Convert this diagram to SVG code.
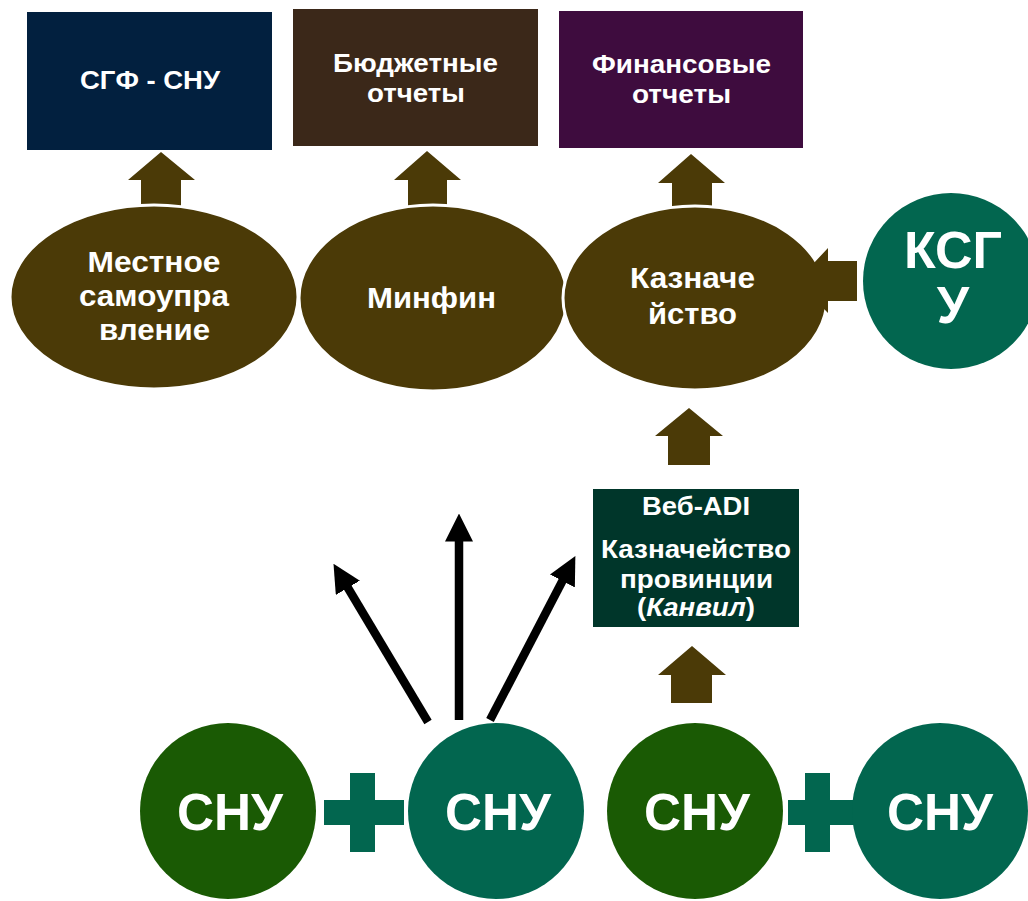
<svg xmlns="http://www.w3.org/2000/svg" width="1028" height="901" viewBox="0 0 1028 901">
<defs>
<style>
text{font-family:"Liberation Sans",Arial,sans-serif;font-weight:bold;fill:#fff;text-anchor:middle}
.box{font-size:25px}
.ell{font-size:29px}
.blk{fill:#4B3A07}
.ellipse{fill:#4B3A07;stroke:#fff;stroke-width:3}
.teal{fill:#02664F}
.dkg{fill:#1A5A04}
.snu{font-size:51px}
.web{font-size:25px}
.line{stroke:#000;stroke-width:8.5;fill:none}
</style>
<marker id="ah" viewBox="0 0 10 10" refX="2" refY="5" markerWidth="3.3" markerHeight="3.3" orient="auto" markerUnits="strokeWidth">
<path d="M0,0 L10,5 L0,10 Z" fill="#000"/>
</marker>
</defs>
<rect width="1028" height="901" fill="#fff"/>

<g id="connectors">
<polygon class="blk" points="161,152 195,180 181,180 181,215 141,215 141,180 128,180"/>
<polygon class="blk" points="427,151 461,180 447,180 447,215 408,215 408,180 394,180"/>
<polygon class="blk" points="691,154 725,183 712,183 712,215 672,215 672,183 658,183"/>
<polygon class="blk" points="689,408 723,436 710,436 710,465 668,465 668,436 655,436"/>
<polygon class="blk" points="692,646 726,675 712,675 712,703 671,703 671,675 658,675"/>
<line class="line" x1="428" y1="722" x2="345" y2="583" marker-end="url(#ah)"/>
<line class="line" x1="459" y1="720" x2="459" y2="536" marker-end="url(#ah)"/>
<line class="line" x1="490" y1="720" x2="565" y2="576" marker-end="url(#ah)"/>
</g>

<g id="n-sgf"><rect x="27" y="12" width="245" height="138" fill="#02203F"/><text class="box" x="150" y="89" textLength="140" lengthAdjust="spacingAndGlyphs">СГФ - СНУ</text></g>
<g id="n-budget"><rect x="293" y="9" width="245" height="137" fill="#3B2819"/><text class="box" x="415.5" y="72" textLength="165" lengthAdjust="spacingAndGlyphs">Бюджетные</text><text class="box" x="416" y="102" textLength="98" lengthAdjust="spacingAndGlyphs">отчеты</text></g>
<g id="n-fin"><rect x="559" y="11" width="244" height="137" fill="#3E0C3E"/><text class="box" x="681.5" y="73" textLength="179" lengthAdjust="spacingAndGlyphs">Финансовые</text><text class="box" x="681.5" y="103" textLength="99" lengthAdjust="spacingAndGlyphs">отчеты</text></g>

<g id="n-local"><ellipse class="ellipse" cx="154" cy="297" rx="144" ry="92"/><text class="ell" x="154" y="272" textLength="133" lengthAdjust="spacingAndGlyphs">Местное</text><text class="ell" x="154" y="306" textLength="150" lengthAdjust="spacingAndGlyphs">самоупра</text><text class="ell" x="154.5" y="340" textLength="111" lengthAdjust="spacingAndGlyphs">вление</text></g>
<g id="n-minfin"><ellipse class="ellipse" cx="433" cy="298" rx="134" ry="93"/><text class="ell" x="431.5" y="308" textLength="129" lengthAdjust="spacingAndGlyphs">Минфин</text></g>
<g id="n-treasury"><ellipse class="ellipse" cx="695" cy="298" rx="132" ry="92"/><text class="ell" x="692.5" y="288" textLength="125" lengthAdjust="spacingAndGlyphs">Казначе</text><text class="ell" x="692.5" y="324" textLength="89" lengthAdjust="spacingAndGlyphs">йство</text></g>

<g id="n-ksgu"><circle class="teal" cx="951" cy="281" r="88"/><text x="953" y="268" font-size="52">КСГ</text><text x="953" y="323" font-size="52">У</text></g>
<polygon id="arrow-ksgu" class="blk" points="797,281 828,248 828,261 857,261 857,301 828,301 828,313"/>

<g id="n-webadi"><rect x="593" y="489" width="206" height="138" fill="#00362A"/><text class="web" x="696" y="515" textLength="108" lengthAdjust="spacingAndGlyphs">Веб-ADI</text><text class="web" x="696" y="558" textLength="190" lengthAdjust="spacingAndGlyphs">Казначейство</text><text class="web" x="696.5" y="588" textLength="153" lengthAdjust="spacingAndGlyphs">провинции</text><text class="web" x="696" y="616" textLength="118" lengthAdjust="spacingAndGlyphs">(<tspan font-style="italic">Канвил</tspan>)</text></g>

<g id="plus1"><rect class="teal" x="324" y="800" width="80" height="25"/><rect class="teal" x="350" y="773" width="25" height="79"/></g>
<g id="plus2"><rect class="teal" x="788" y="800" width="70" height="25"/><rect class="teal" x="805" y="773" width="25" height="79"/></g>
<g id="n-snu1"><circle class="dkg" cx="228" cy="811" r="88"/><text class="snu" x="230" y="830" textLength="106" lengthAdjust="spacingAndGlyphs">СНУ</text></g>
<g id="n-snu2"><circle class="teal" cx="496" cy="811" r="88"/><text class="snu" x="498" y="830" textLength="106" lengthAdjust="spacingAndGlyphs">СНУ</text></g>
<g id="n-snu3"><circle class="dkg" cx="695" cy="811" r="88"/><text class="snu" x="697" y="830" textLength="106" lengthAdjust="spacingAndGlyphs">СНУ</text></g>
<g id="n-snu4"><circle class="teal" cx="940" cy="811" r="88"/><text class="snu" x="940" y="830" textLength="106" lengthAdjust="spacingAndGlyphs">СНУ</text></g>
</svg>
